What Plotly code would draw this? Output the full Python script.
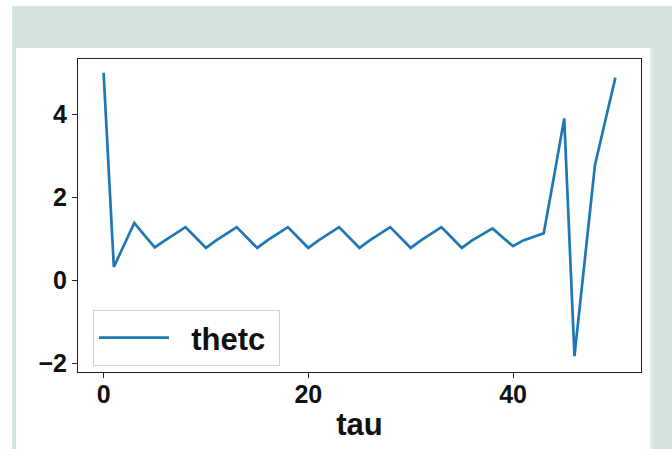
import plotly.graph_objects as go

# data
tau = list(range(0, 51))
thetc = [
    5.00, 0.32, 0.85, 1.38, 1.08,
    0.79, 0.96, 1.12, 1.28, 1.03,
    0.78, 0.96, 1.12, 1.28, 1.03,
    0.78, 0.96, 1.12, 1.28, 1.03,
    0.78, 0.96, 1.12, 1.28, 1.03,
    0.78, 0.96, 1.12, 1.28, 1.03,
    0.78, 0.96, 1.12, 1.28, 1.03,
    0.78, 0.96, 1.11, 1.25, 1.03,
    0.82, 0.96, 1.04, 1.13, 2.50,
    3.90, -1.83, 0.47, 2.77, 3.83,
    4.88,
]
series_name = "thetc"
x_title = "tau"
x_ticks = [0, 20, 40]
y_ticks = [-2, 0, 2, 4]

W, H = 672, 449
L, R, T, B = 78, 31, 59, 77
PW, PH = W - L - R, H - T - B

def px(x):
    return (x - L) / PW

def py(y):
    return (H - B - y) / PH

TEAL = "#d4e3e0"
FONT = "Liberation Sans"

fig = go.Figure()
fig.add_trace(go.Scatter(
    x=tau, y=thetc, mode="lines", name="\u00a0\u00a0" + series_name + "\u00a0",
    line=dict(color="#1f77b4", width=2.7),
))

shapes = [
    dict(type="rect", xref="paper", yref="paper", layer="below",
         x0=px(12), x1=px(W + 5), y0=py(H + 5), y1=py(6),
         fillcolor=TEAL, line=dict(width=0)),
    dict(type="rect", xref="paper", yref="paper", layer="below",
         x0=px(650), x1=px(653), y0=py(H + 5), y1=py(47),
         fillcolor="#e4e8e8", line=dict(width=0)),
    dict(type="rect", xref="paper", yref="paper", layer="below",
         x0=px(16), x1=px(650), y0=py(H + 5), y1=py(48),
         fillcolor="white", line=dict(width=0)),
]

fig.update_layout(
    width=W, height=H,
    margin=dict(l=L, r=R, t=T, b=B, autoexpand=False),
    paper_bgcolor="white", plot_bgcolor="white",
    font=dict(family=FONT, color="#111111"),
    shapes=shapes,
    showlegend=True,
    legend=dict(
        x=px(93), y=py(310), xanchor="left", yanchor="top",
        bgcolor="white", bordercolor="#d0d0d0", borderwidth=1,
        font=dict(family=FONT, size=31, weight="bold", color="#111111"),
        itemwidth=70,
    ),
    xaxis=dict(
        range=[-2.5, 52.5], tickvals=x_ticks, ticktext=[str(v) for v in x_ticks],
        showgrid=False, zeroline=False,
        showline=True, mirror=True, linecolor="#222222", linewidth=1,
        ticks="outside", ticklen=5, tickcolor="#222222",
        ticklabelstandoff=-5,
        tickfont=dict(family=FONT, size=25, weight="bold", color="#111111"),
        title=dict(text=x_title, font=dict(family=FONT, size=31, weight="bold", color="#111111"),
                   standoff=6),
        automargin=False,
    ),
    yaxis=dict(
        range=[-2.21, 5.33], tickvals=y_ticks,
        showgrid=False, zeroline=False,
        showline=True, mirror=True, linecolor="#222222", linewidth=1,
        ticks="outside", ticklen=5, tickcolor="#222222",
        tickfont=dict(family=FONT, size=25, weight="bold", color="#111111"),
        automargin=False,
    ),
)

fig.write_html("out.html")
